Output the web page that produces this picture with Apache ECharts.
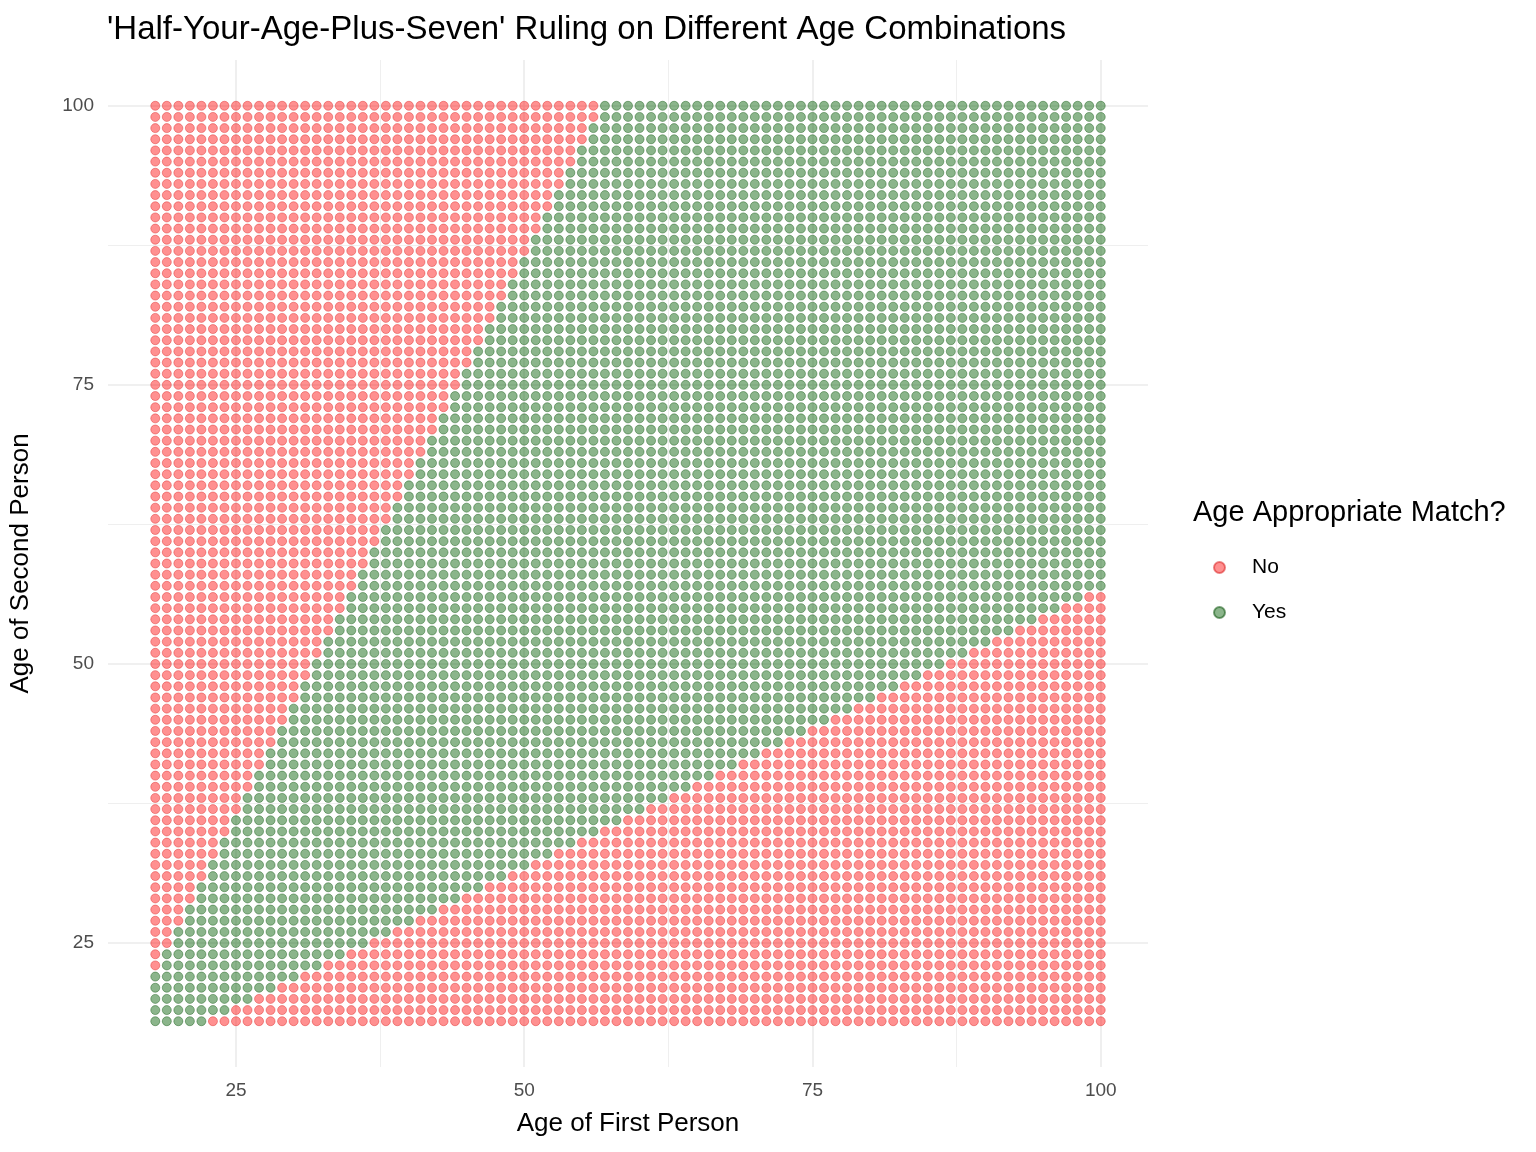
<!DOCTYPE html>
<html>
<head>
<meta charset="utf-8">
<script src="https://cdn.jsdelivr.net/npm/echarts@6/dist/echarts.min.js"></script>
<style>html,body{margin:0;padding:0;background:#fff}#main{width:1536px;height:1152px}</style>
</head>
<body>
<div id="main"></div>
<script>
// 年龄范围（两个轴相同）
var ageMin = 18, ageMax = 100;
// 每个“第一人年龄”对应的可接受最小/最大年龄（从图中读取的边界）
var lowerBound = [18,18,18,18,18,19,19,20,20,21,21,22,22,23,23,24,24,25,25,26,26,27,27,28,28,29,29,30,30,31,31,32,32,33,33,34,34,35,35,36,36,37,37,38,38,39,39,40,40,41,41,42,42,43,43,44,44,45,45,46,46,47,47,48,48,49,49,50,50,51,51,52,52,53,53,54,54,55,55,56,56,57,57];
var upperBound = [22,24,26,28,30,32,34,36,38,40,42,44,46,48,50,52,54,56,58,60,62,64,66,68,70,72,74,76,78,80,82,84,86,88,90,92,94,96,98,
  100,100,100,100,100,100,100,100,100,100,100,100,100,100,100,100,100,100,100,100,100,100,100,100,100,100,100,100,100,100,100,100,100,100,100,100,100,100,100,100,100,100,100,100];
var tickLabels = [25, 50, 75, 100];
var majorGrid = [25, 50, 75, 100];
var minorGrid = [37.5, 62.5, 87.5];

var noData = [], yesData = [];
for (var x = ageMin; x <= ageMax; x++) {
  var i = x - ageMin;
  for (var y = ageMin; y <= ageMax; y++) {
    if (y >= lowerBound[i] && y <= upperBound[i]) yesData.push([x, y]);
    else noData.push([x, y]);
  }
}

function gridLines(vals, axis, w) {
  return vals.map(function (v) {
    var o = {lineStyle: {width: w}}; o[axis] = v; return o;
  });
}

var myChart = echarts.init(document.getElementById('main'));
var font = 'Liberation Sans';
var axisCommon = {
  type: 'value', min: 13.9, max: 104.1,
  axisLine: {show: false}, axisTick: {show: false}, splitLine: {show: false},
  axisLabel: {customValues: tickLabels, color: '#4d4d4d', fontSize: 19, fontFamily: font, margin: 14},
  nameLocation: 'middle',
  nameTextStyle: {color: '#000', fontSize: 26, fontFamily: font}
};
var option = {
  animation: false,
  title: {
    text: "'Half-Your-Age-Plus-Seven' Ruling on Different Age Combinations",
    left: 102, top: 8,
    textStyle: {color: '#000', fontSize: 33, fontWeight: 'normal', fontFamily: font}
  },
  grid: {left: 104, right: 388, top: 60, bottom: 85},
  xAxis: Object.assign({}, axisCommon, {name: 'Age of First Person', nameGap: 44}),
  yAxis: Object.assign({}, axisCommon, {name: 'Age of Second Person', nameGap: 74}),
  graphic: [{
    type: 'text', left: 1193, top: 498,
    style: {text: 'Age Appropriate Match?', fill: '#000', fontSize: 29, fontFamily: font}
  }],
  legend: {
    orient: 'vertical', left: 1208, top: 552, itemGap: 24,
    itemWidth: 11, itemHeight: 11, icon: 'circle',
    textStyle: {color: '#000', fontSize: 21, fontFamily: font, padding: [0, 0, 0, 22]},
    data: ['No', 'Yes']
  },
  series: [
    {
      type: 'line', data: [], silent: true, z: 0,
      markLine: {
        silent: true, symbol: 'none', label: {show: false}, z: 0,
        lineStyle: {color: '#ebebeb', type: 'solid'},
        data: gridLines(majorGrid, 'xAxis', 1.6).concat(gridLines(majorGrid, 'yAxis', 1.6))
          .concat(gridLines(minorGrid, 'xAxis', 0.8)).concat(gridLines(minorGrid, 'yAxis', 0.8))
      }
    },
    {
      name: 'No', type: 'scatter', symbolSize: 9, data: noData, z: 5,
      itemStyle: {color: 'rgba(255,30,30,0.62)', borderColor: 'rgba(220,40,40,0.7)', borderWidth: 0.8}
    },
    {
      name: 'Yes', type: 'scatter', symbolSize: 9, data: yesData, z: 5,
      itemStyle: {color: 'rgba(20,105,20,0.62)', borderColor: 'rgba(20,90,20,0.7)', borderWidth: 0.8}
    }
  ]
};
myChart.setOption(option);
</script>
</body>
</html>
